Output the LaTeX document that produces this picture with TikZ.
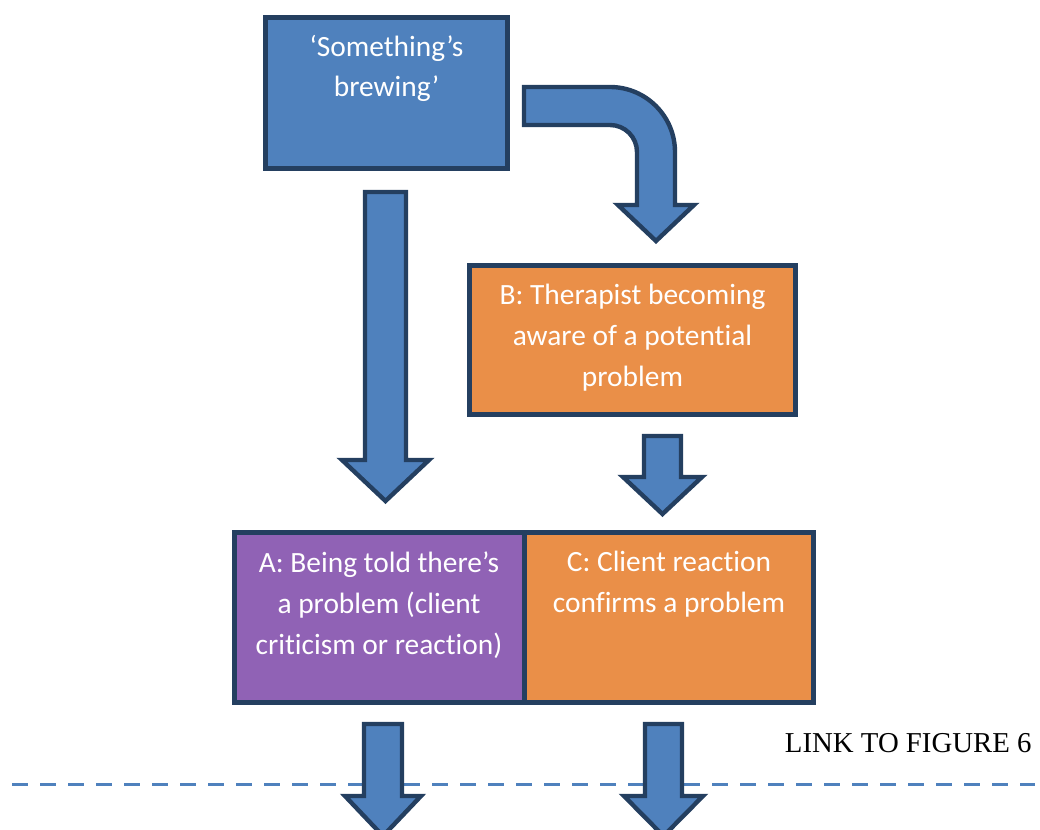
\documentclass[tikz,border=0pt]{standalone}
\usepackage{fontspec}
\setmainfont{Carlito}[Ligatures=NoCommon]
\newfontfamily\linkfont{Liberation Serif}
\usepackage{tikz}

\definecolor{boxblue}{HTML}{4F81BD}
\definecolor{edgenavy}{HTML}{243F60}
\definecolor{boxorange}{HTML}{EA8F48}
\definecolor{boxpurple}{HTML}{9062B5}

\begin{document}
\begin{tikzpicture}[x=0.5pt, y=-0.5pt,
		stage/.style={draw=edgenavy, line width=2.5pt, inner sep=0pt},
		stagetext/.style={anchor=base, align=center, inner sep=0pt, text=white, font=\fontsize{14.7}{20.5}\selectfont},
		blockarrow/.style={draw=edgenavy, fill=boxblue, line width=2.2pt}]
		\useasboundingbox (0,0) rectangle (1040,830);

		% link line to the next figure
		\draw[boxblue, line width=1.5pt, dash pattern=on 8pt off 6pt] (12,784) -- (1035,784);
		\node[anchor=base east, inner sep=0pt, font=\linkfont\fontsize{14.4}{17}\selectfont] (link) at (1032,752) {LINK TO FIGURE 6};

		% boxes
		\node[stage, fill=boxblue, minimum width=121pt, minimum height=75.5pt] (brew) at (386.5,93) {};
		\node[stage, fill=boxorange, minimum width=163pt, minimum height=74.5pt] (aware) at (632.5,340) {};
		\node[stage, fill=boxpurple, minimum width=144.75pt, minimum height=85pt] (told) at (379.25,617.5) {};
		\node[stage, fill=boxorange, minimum width=144.75pt, minimum height=85pt] (confirm) at (668.75,617.5) {};

		% texts sit on the baseline of their last line
		\node[stagetext] (brew_t) at (386.5,97) {‘Something’s\\brewing’};
		\node[stagetext] (aware_t) at (632.5,386) {B: Therapist becoming\\aware of a potential\\problem};
		\node[stagetext] (told_t) at (379,654) {A: Being told there’s\\a problem (client\\criticism or reaction)};
		\node[stagetext] (confirm_t) at (669,612) {C: Client reaction\\confirms a problem};

		% block arrows
		\draw[blockarrow] (365,192) -- (406,192) -- (406,460) -- (429,460) -- (385.5,501) -- (342,460) -- (365,460) -- cycle;
		\draw[blockarrow] (524,87) -- (610,87) arc (270:360:65) -- (675,205) -- (694,205) -- (656,241)
			-- (618,205) -- (637,205) -- (637,152) arc (0:-90:27) -- (524,125) -- cycle;
		\draw[blockarrow] (644,436) -- (681,436) -- (681,477) -- (702,477) -- (662.5,514) -- (623,477) -- (644,477) -- cycle;

		\draw[blockarrow] (364,724) -- (402,724) -- (402,796) -- (421,796) -- (383,836) -- (345,796) -- (364,796) -- cycle;
		\draw[blockarrow] (645,724) -- (682,724) -- (682,796) -- (703,796) -- (663.5,836) -- (624,796) -- (645,796) -- cycle;
	\end{tikzpicture}
\end{document}
